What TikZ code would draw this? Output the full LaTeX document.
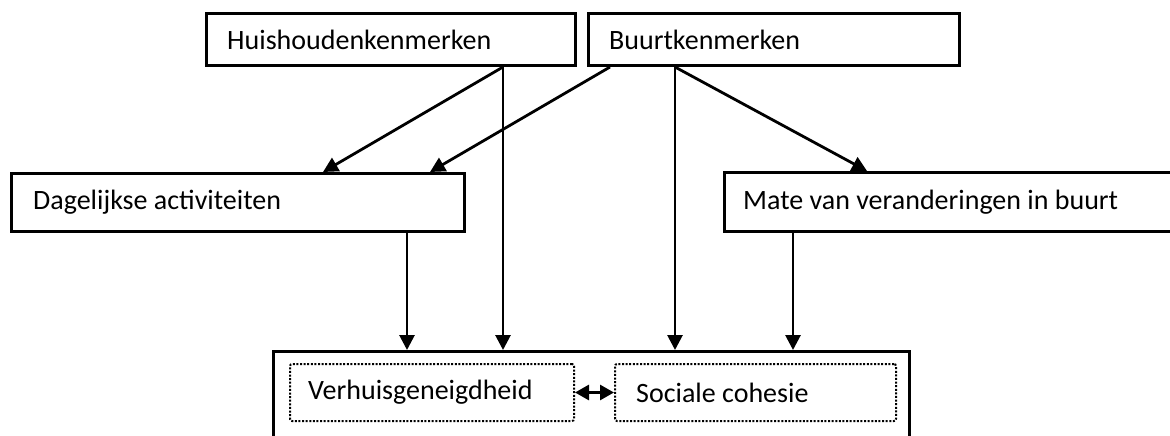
\documentclass[tikz,border=0pt]{standalone}
\usepackage{fontspec}
\setmainfont{Carlito}
\usetikzlibrary{arrows.meta}
\begin{document}
\begin{tikzpicture}[x=1pt,y=-1pt,
  box/.style={draw, line width=3pt, anchor=north west, inner xsep=0pt, inner ysep=0pt},
  lbl/.style={anchor=west, inner sep=0pt, font=\fontsize{28}{30}\selectfont},
  dbox/.style={draw, line width=2pt, dash pattern=on 2pt off 1.6pt, rounded corners=2pt, anchor=north west, inner sep=0pt},
  arr/.style={line width=2.8pt, -{Triangle[length=15pt,width=15pt]}},
  darr/.style={line width=2.8pt, {Triangle[length=14pt,width=15pt]}-{Triangle[length=14pt,width=15pt]}}]
\useasboundingbox (0,0) rectangle (1170,436);
\clip (0,0) rectangle (1170,436);
\node[box, minimum width=369pt, minimum height=52pt] (h) at (205,12) {};
\node[lbl] (ht) at ([xshift=22pt]h.west) {Huishoudenkenmerken};
\node[box, minimum width=371pt, minimum height=52pt] (b) at (587,12) {};
\node[lbl] (bt) at ([xshift=22pt]b.west) {Buurtkenmerken};
\node[box, minimum width=453pt, minimum height=58pt] (d) at (10,172) {};
\node[lbl] (dt) at ([xshift=23pt]d.west) {Dagelijkse activiteiten};
\node[box, minimum width=480pt, minimum height=59pt] (m) at (723,171) {};
\node[lbl] (mt) at ([xshift=20pt]m.west) {Mate van veranderingen in buurt};
\node[box, minimum width=636pt, minimum height=130pt] (o) at (272,350) {};
\node[dbox, minimum width=284pt, minimum height=57pt] (v) at (289,363) {};
\node[lbl] (vt) at ([xshift=19pt]v.west) {Verhuisgeneigdheid};
\node[dbox, minimum width=281pt, minimum height=57pt] (s) at (614,363) {};
\node[lbl] (st) at ([xshift=22pt]s.west) {Sociale cohesie};
% connectors
\draw[arr] ([xshift=298pt]h.south west) -- ([xshift=313pt]d.north west);
\draw[arr] ([xshift=23pt]b.south west) -- ([xshift=420pt]d.north west);
\draw[arr] ([xshift=88pt]b.south west) -- ([xshift=144pt]m.north west);
\draw[arr] ([xshift=397pt]d.south west) -- ([xshift=135pt]o.north west);
\draw[arr] ([xshift=298pt]h.south west) -- ([xshift=231pt]o.north west);
\draw[arr] ([xshift=88pt]b.south west) -- ([xshift=403pt]o.north west);
\draw[arr] ([xshift=70pt]m.south west) -- ([xshift=521pt]o.north west);
\draw[darr] (v.east) -- (s.west);
\end{tikzpicture}
\end{document}
